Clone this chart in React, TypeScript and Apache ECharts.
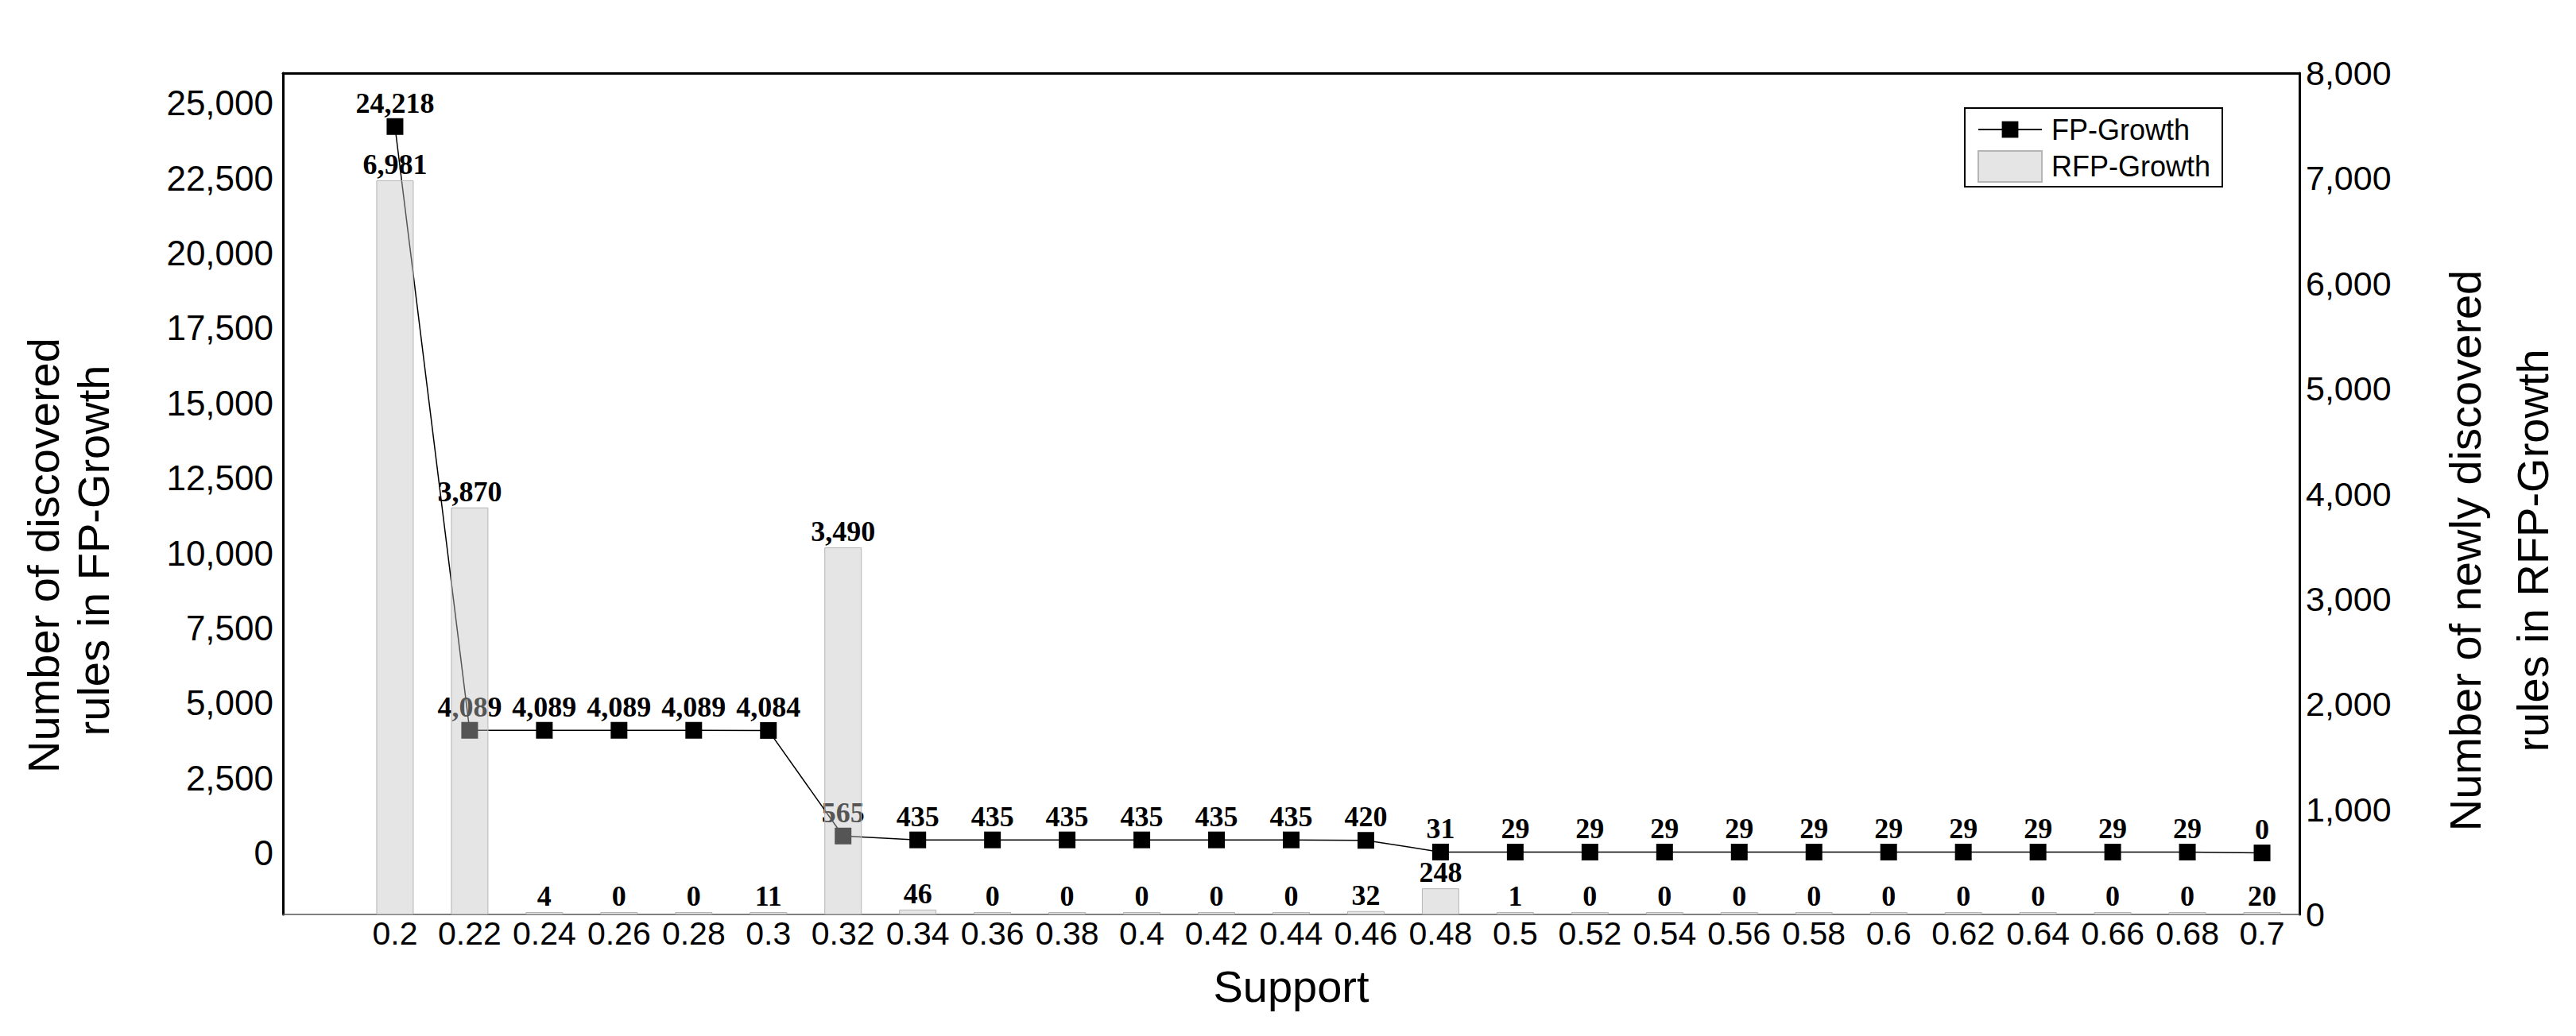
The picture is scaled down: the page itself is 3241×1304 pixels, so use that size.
import React, { useEffect, useRef } from "react";
import * as echarts from "echarts";

const supports = [0.2, 0.22, 0.24, 0.26, 0.28, 0.3, 0.32, 0.34, 0.36, 0.38, 0.4, 0.42, 0.44, 0.46, 0.48, 0.5, 0.52, 0.54, 0.56, 0.58, 0.6, 0.62, 0.64, 0.66, 0.68, 0.7];
const fpGrowth = [24218, 4089, 4089, 4089, 4089, 4084, 565, 435, 435, 435, 435, 435, 435, 420, 31, 29, 29, 29, 29, 29, 29, 29, 29, 29, 29, 0];
const rfpGrowth = [6981, 3870, 4, 0, 0, 11, 3490, 46, 0, 0, 0, 0, 0, 32, 248, 1, 0, 0, 0, 0, 0, 0, 0, 0, 0, 20];
const leftTicks = [0, 2500, 5000, 7500, 10000, 12500, 15000, 17500, 20000, 22500, 25000];
const rightTicks = [0, 1000, 2000, 3000, 4000, 5000, 6000, 7000, 8000];

const fmt = (v: number) => Math.round(v).toLocaleString("en-US");
const SANS = "'Liberation Sans', Arial, sans-serif";
const SERIF = "'Liberation Serif', 'Times New Roman', serif";

export default function App() {
  const ref = useRef<HTMLDivElement>(null);
  useEffect(() => {
    if (!ref.current) return;
    const chart = echarts.init(ref.current, undefined, { renderer: "svg" });
    const xMin = 0.17;
    const xMax = 0.71;
    const nameStyle = {
      fontFamily: SANS,
      fontSize: 56,
      fill: "#000",
      textAlign: "center",
      textVerticalAlign: "middle",
      verticalAlign: "middle",
    };
    const option: any = {
      animation: false,
      backgroundColor: "#fff",
      grid: { left: 356, top: 92, right: 348, bottom: 153, containLabel: false },
      xAxis: [
        {
          type: "value",
          position: "bottom",
          min: xMin,
          max: xMax,
          interval: 0.01,
          name: "Support",
          nameLocation: "middle",
          nameGap: 62,
          nameTextStyle: { fontFamily: SANS, fontSize: 56, color: "#000" },
          axisLine: { show: true, onZero: false, lineStyle: { color: "#555", width: 1.5 } },
          axisTick: { show: false },
          splitLine: { show: false },
          axisLabel: {
            margin: 3,
            fontFamily: SANS,
            fontSize: 41,
            color: "#000",
            formatter: (v: number) => {
              const k = Math.round(v * 100);
              const hit = supports.some((s) => Math.round(s * 100) === k);
              return hit && Math.abs(v * 100 - k) < 1e-6 ? String(k / 100) : "";
            },
          },
        },
        {
          type: "value",
          position: "top",
          min: xMin,
          max: xMax,
          interval: 0.01,
          axisLine: { show: true, onZero: false, lineStyle: { color: "#000", width: 3 } },
          axisTick: { show: false },
          axisLabel: { show: false },
          splitLine: { show: false },
        },
      ],
      yAxis: [
        {
          type: "value",
          position: "left",
          min: -2050,
          max: 26000,
          interval: 50,
          axisLine: { show: true, onZero: false, lineStyle: { color: "#000", width: 3 } },
          axisTick: { show: false },
          splitLine: { show: false },
          axisLabel: {
            margin: 12,
            fontFamily: SANS,
            fontSize: 44,
            color: "#000",
            formatter: (v: number) => (leftTicks.includes(Math.round(v)) && Math.abs(v - Math.round(v)) < 1e-6 ? fmt(v) : ""),
          },
        },
        {
          type: "value",
          position: "right",
          min: 0,
          max: 8000,
          interval: 1000,
          axisLine: { show: true, onZero: false, lineStyle: { color: "#000", width: 3 } },
          axisTick: { show: false },
          splitLine: { show: false },
          axisLabel: {
            margin: 8,
            fontFamily: SANS,
            fontSize: 43,
            color: "#000",
            formatter: (v: number) => (rightTicks.includes(v) ? fmt(v) : ""),
          },
        },
      ],
      legend: [
        {
          data: ["FP-Growth"],
          orient: "vertical",
          left: 2488,
          top: 145,
          padding: 0,
          itemWidth: 80,
          itemHeight: 26,
          textStyle: { fontFamily: SANS, fontSize: 36, color: "#000", padding: [0, 0, 0, 7] },
        },
        {
          data: [{ name: "RFP-Growth", icon: "rect" }],
          orient: "vertical",
          left: 2488,
          top: 189,
          padding: 0,
          itemWidth: 80,
          itemHeight: 39,
          textStyle: { fontFamily: SANS, fontSize: 36, color: "#000", padding: [0, 0, 0, 7] },
        },
      ],
      graphic: [
        {
          type: "rect",
          shape: { x: 2472, y: 136, width: 324, height: 99 },
          style: { fill: "none", stroke: "#000", lineWidth: 2 },
          z: 10,
        },
        { type: "text", x: 54, y: 699, rotation: Math.PI / 2, style: { ...nameStyle, text: "Number of discovered" } },
        { type: "text", x: 117, y: 693, rotation: Math.PI / 2, style: { ...nameStyle, text: "rules in FP-Growth" } },
        { type: "text", x: 3101, y: 693, rotation: Math.PI / 2, style: { ...nameStyle, text: "Number of newly discovered" } },
        { type: "text", x: 3186, y: 693, rotation: Math.PI / 2, style: { ...nameStyle, text: "rules in RFP-Growth" } },
      ],
      series: [
        {
          name: "FP-Growth",
          type: "line",
          xAxisIndex: 0,
          yAxisIndex: 0,
          z: 2,
          data: supports.map((s, i) => [s, fpGrowth[i]]),
          symbol: "rect",
          symbolSize: 21,
          itemStyle: { color: "#000" },
          lineStyle: { color: "#000", width: 1.5 },
          label: {
            show: true,
            position: "top",
            distance: 1,
            fontFamily: SERIF,
            fontWeight: "bold",
            fontSize: 36,
            color: "#000",
            formatter: (p: any) => fmt(p.value[1]),
          },
        },
        {
          name: "RFP-Growth",
          type: "bar",
          xAxisIndex: 0,
          yAxisIndex: 1,
          z: 3,
          barWidth: 47,
          barMinHeight: 3,
          data: supports.map((s, i) => [s, rfpGrowth[i]]),
          itemStyle: { color: "rgba(195,195,195,0.435)", borderColor: "#b5b5b5", borderWidth: 1 },
          label: {
            show: true,
            position: "top",
            distance: 2,
            fontFamily: SERIF,
            fontWeight: "bold",
            fontSize: 36,
            color: "#000",
            formatter: (p: any) => fmt(p.value[1]),
          },
        },
      ],
    };
    chart.setOption(option);
    return () => chart.dispose();
  }, []);
  return (
    <div
      ref={ref}
      style={{ position: "fixed", left: 0, top: 0, width: 3241, height: 1304, background: "#fff" }}
    />
  );
}
